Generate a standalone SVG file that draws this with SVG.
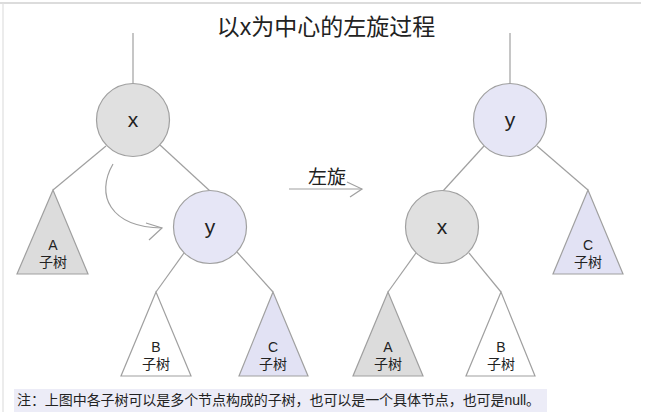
<svg xmlns="http://www.w3.org/2000/svg" width="671" height="412" viewBox="0 0 671 412">
<defs>
<style>
.edge{stroke:#a0a0a0;stroke-width:1.2;fill:none}
.nx{fill:#e0e0e0;stroke:#a0a0a0;stroke-width:1.2}
.ny{fill:#e6e6f6;stroke:#a0a0a0;stroke-width:1.2}
.tg{fill:#dcdcdc;stroke:#a0a0a0;stroke-width:1.2}
.tw{fill:#ffffff;stroke:#a0a0a0;stroke-width:1.2}
.tp{fill:#e2e2f4;stroke:#a0a0a0;stroke-width:1.2}
.lbl{font-family:"Liberation Sans","Noto Sans CJK SC",sans-serif;fill:#222;text-anchor:middle}
.big{font-size:21px}
.sm{font-size:14px}
</style>
</defs>
<rect x="0" y="0" width="671" height="412" fill="#ffffff"/>
<line x1="0" y1="3" x2="641" y2="3" stroke="#d0d0d0" stroke-width="1.5"/>
<line x1="3" y1="3" x2="3" y2="412" stroke="#e0e0e0" stroke-width="1.2"/>
<text x="326" y="35" class="lbl" style="font-size:23px">以x为中心的左旋过程</text>

<g id="connectors">
<line class="edge" x1="133" y1="33" x2="133" y2="84"/>
<line class="edge" x1="106" y1="146" x2="53" y2="190"/>
<line class="edge" x1="160" y1="145" x2="210" y2="191"/>
<line class="edge" x1="184" y1="253" x2="156" y2="292"/>
<line class="edge" x1="237" y1="252" x2="273" y2="292"/>
<path class="edge" d="M113,164 C95,195 110,227 162,228"/>
<path class="edge" d="M146,223 L162,228 L149,240"/>
<line class="edge" x1="289" y1="189" x2="362" y2="189"/>
<path class="edge" d="M347,182 L362,189 L350,197"/>
<line class="edge" x1="510" y1="33" x2="510" y2="84"/>
<line class="edge" x1="484" y1="146" x2="443" y2="191"/>
<line class="edge" x1="537" y1="146" x2="588" y2="190"/>
<line class="edge" x1="416" y1="253" x2="388" y2="292"/>
<line class="edge" x1="469" y1="253" x2="501" y2="292"/>
</g>
<text x="327" y="184" class="lbl" style="font-size:19px">左旋</text>

<g id="L-x"><circle class="nx" cx="133" cy="120" r="36.5"/><text x="133" y="127" class="lbl big">x</text></g>
<g id="L-y"><circle class="ny" cx="210" cy="227" r="36.5"/><text x="210" y="234" class="lbl big">y</text></g>
<g id="L-A"><polygon class="tg" points="53,190 17,274 88,274"/><text x="53" y="250" class="lbl sm">A</text><text x="53" y="267" class="lbl sm">子树</text></g>
<g id="L-B"><polygon class="tw" points="156,292 121,376 191,376"/><text x="156" y="352" class="lbl sm">B</text><text x="156" y="369" class="lbl sm">子树</text></g>
<g id="L-C"><polygon class="tp" points="273,292 239,376 308,376"/><text x="273" y="352" class="lbl sm">C</text><text x="273" y="369" class="lbl sm">子树</text></g>

<g id="R-y"><circle class="ny" cx="510" cy="120" r="36.5"/><text x="510" y="127" class="lbl big">y</text></g>
<g id="R-x"><circle class="nx" cx="442" cy="227" r="36.5"/><text x="442" y="234" class="lbl big">x</text></g>
<g id="R-C"><polygon class="tp" points="588,190 553,274 623,274"/><text x="588" y="250" class="lbl sm">C</text><text x="588" y="267" class="lbl sm">子树</text></g>
<g id="R-A"><polygon class="tg" points="388,292 353,376 423,376"/><text x="388" y="352" class="lbl sm">A</text><text x="388" y="369" class="lbl sm">子树</text></g>
<g id="R-B"><polygon class="tw" points="501,292 466,376 535,376"/><text x="501" y="352" class="lbl sm">B</text><text x="501" y="369" class="lbl sm">子树</text></g>

<rect x="14" y="389" width="533" height="23" fill="#ececf7"/>
<text x="17" y="405" style="font-family:'Liberation Sans','Noto Sans CJK SC',sans-serif;font-size:14px;fill:#222" textLength="523" lengthAdjust="spacing">注：上图中各子树可以是多个节点构成的子树，也可以是一个具体节点，也可是null。</text>
</svg>
